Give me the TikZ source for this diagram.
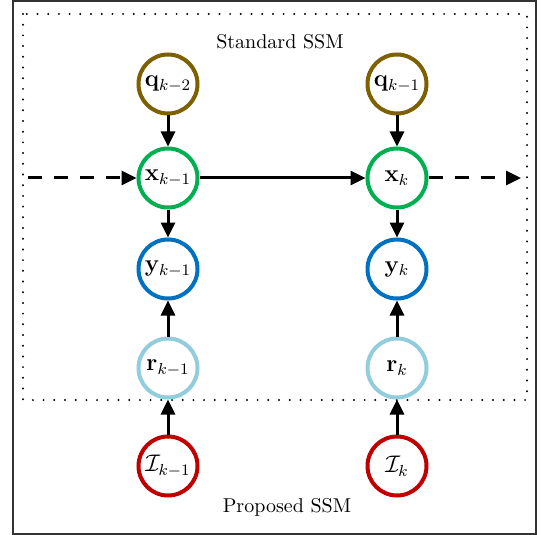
\documentclass[tikz,border=0pt]{standalone}
\usepackage{amsmath}
\usetikzlibrary{arrows.meta}
\definecolor{qcol}{RGB}{127,96,0}
\definecolor{xcol}{RGB}{0,176,80}
\definecolor{ycol}{RGB}{0,112,192}
\definecolor{rcol}{RGB}{146,205,220}
\definecolor{icol}{RGB}{192,0,0}
\tikzset{
  var/.style={circle, draw, line width=2pt, minimum size=29.5pt, inner sep=0pt, fill=white, font=\large},
  conn/.style={line width=1.5pt, -{Triangle[length=7.5pt,width=7pt]}},
  dconn/.style={conn, dash pattern=on 7pt off 6pt},
  caption/.style={font=\normalsize}
}
\begin{document}
\begin{tikzpicture}[x=0.5pt,y=-0.5pt]
\useasboundingbox (0,0) rectangle (541,535);
% outer box
\draw[line width=0.7pt, black!80] (13,1) rectangle (536,534);
% dotted box
\draw[line width=1.1pt, line cap=round, dash pattern=on 0pt off 5.35pt] (23,14) rectangle (527,400);
\node[caption] (std) at (280,42) {Standard SSM};
\node[caption] (prop) at (287,507) {Proposed SSM};
% nodes
\node[var, draw=qcol] (q1) at (168,84) {$\mathbf{q}_{k-2}$};
\node[var, draw=qcol] (q2) at (397,84) {$\mathbf{q}_{k-1}$};
\node[var, draw=xcol] (x1) at (168,178) {$\mathbf{x}_{k-1}$};
\node[var, draw=xcol] (x2) at (397,178) {$\mathbf{x}_{k}$};
\node[var, draw=ycol] (y1) at (168,269) {$\mathbf{y}_{k-1}$};
\node[var, draw=ycol] (y2) at (397,269) {$\mathbf{y}_{k}$};
\node[var, draw=rcol] (r1) at (168,368) {$\mathbf{r}_{k-1}$};
\node[var, draw=rcol] (r2) at (397,368) {$\mathbf{r}_{k}$};
\node[var, draw=icol] (i1) at (168,466) {$\mathcal{I}_{k-1}$};
\node[var, draw=icol] (i2) at (397,466) {$\mathcal{I}_{k}$};
\coordinate (lin) at (28,178);
\coordinate (rout) at (521,178);
% connectors
\draw[conn] (q1) -- (x1);
\draw[conn] (q2) -- (x2);
\draw[conn] (x1) -- (y1);
\draw[conn] (x2) -- (y2);
\draw[conn] (r1) -- (y1);
\draw[conn] (r2) -- (y2);
\draw[conn] (i1) -- (r1);
\draw[conn] (i2) -- (r2);
\draw[conn] (x1) -- (x2);
\draw[dconn] (lin) -- (x1);
\draw[dconn] (x2) -- (rout);
\end{tikzpicture}
\end{document}
